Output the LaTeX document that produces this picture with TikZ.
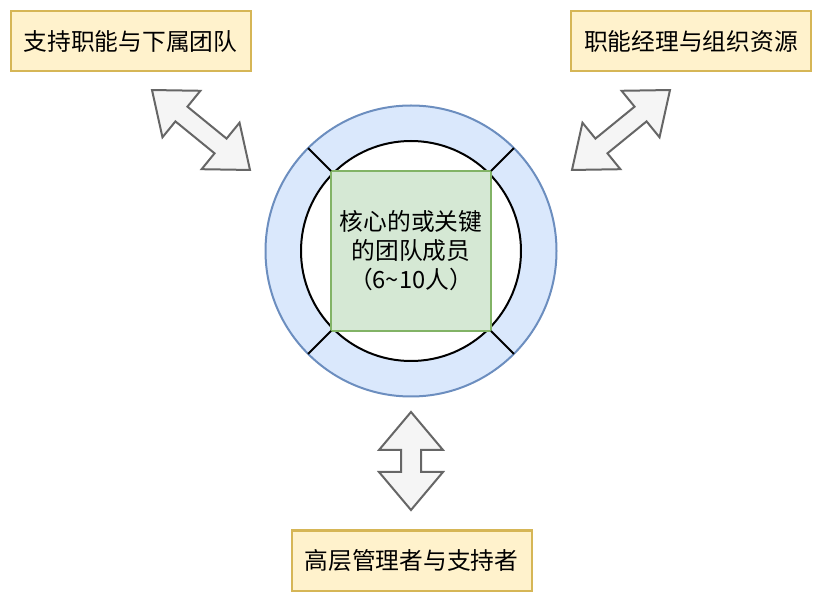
\documentclass[tikz,border=0pt]{standalone}
\usepackage{fontspec}
\newfontfamily\cjk{Noto Sans CJK SC}
\usepackage{tikz}
\usepackage{color}

\definecolor{boxfill}{HTML}{FFF2CC}
\definecolor{boxline}{HTML}{D6B656}
\definecolor{ringfill}{HTML}{DAE8FC}
\definecolor{ringline}{HTML}{6C8EBF}
\definecolor{corefill}{HTML}{D5E8D4}
\definecolor{coreline}{HTML}{82B366}
\definecolor{arrowfill}{HTML}{F5F5F5}
\definecolor{arrowline}{HTML}{666666}

% block arrow with two heads: centre x, centre y, angle, length, half head width, half shaft width
\newcommand{\dblarrow}[6]{%
  \begin{scope}[shift={(#1,#2)},rotate=#3]
    \filldraw[bigarrow] ({-#4/2},0) -- ({-#4/2+38},#5) -- ({-#4/2+38},#6) -- ({#4/2-38},#6)
      -- ({#4/2-38},#5) -- ({#4/2},0) -- ({#4/2-38},-#5) -- ({#4/2-38},-#6)
      -- ({-#4/2+38},-#6) -- ({-#4/2+38},-#5) -- cycle;
  \end{scope}}

\begin{document}
\begin{tikzpicture}[x=0.75pt,y=-0.75pt,line width=1.5pt,
    every node/.style={font=\cjk\fontsize{17.8}{21.8}\selectfont,inner sep=0pt,outer sep=0pt},
    group/.style={draw=boxline,fill=boxfill,minimum width=180pt,minimum height=45pt},
    bigarrow/.style={draw=arrowline,fill=arrowfill,line join=miter}]
  \useasboundingbox (0,0) rectangle (822,602);

  \node[circle,draw=ringline,fill=ringfill,minimum size=218.25pt] (ring) at (411,251) {};
  \node[circle,draw=black,fill=white,minimum size=165pt] (inner) at (411,251) {};
  \node[draw=coreline,fill=corefill,minimum size=120pt,align=center] (core) at (411,251)
    {核心的或关键\\的团队成员\\（6\char"007E 10人）};
  \draw (core.north west) -- (ring.135);
  \draw (core.north east) -- (ring.45);
  \draw (core.south west) -- (ring.225);
  \draw (core.south east) -- (ring.315);

  \node[group] (support) at (130.5,41) {支持职能与下属团队};
  \node[group] (manager) at (691,41) {职能经理与组织资源};
  \node[group] (leaders) at (411.5,560.5) {高层管理者与支持者};

  \dblarrow{201}{130}{-39.2}{126.5}{30}{9.5}
  \dblarrow{621}{130}{39.2}{126.5}{30}{9.5}
  \dblarrow{411}{461}{90}{98}{32}{10}
\end{tikzpicture}
\end{document}
